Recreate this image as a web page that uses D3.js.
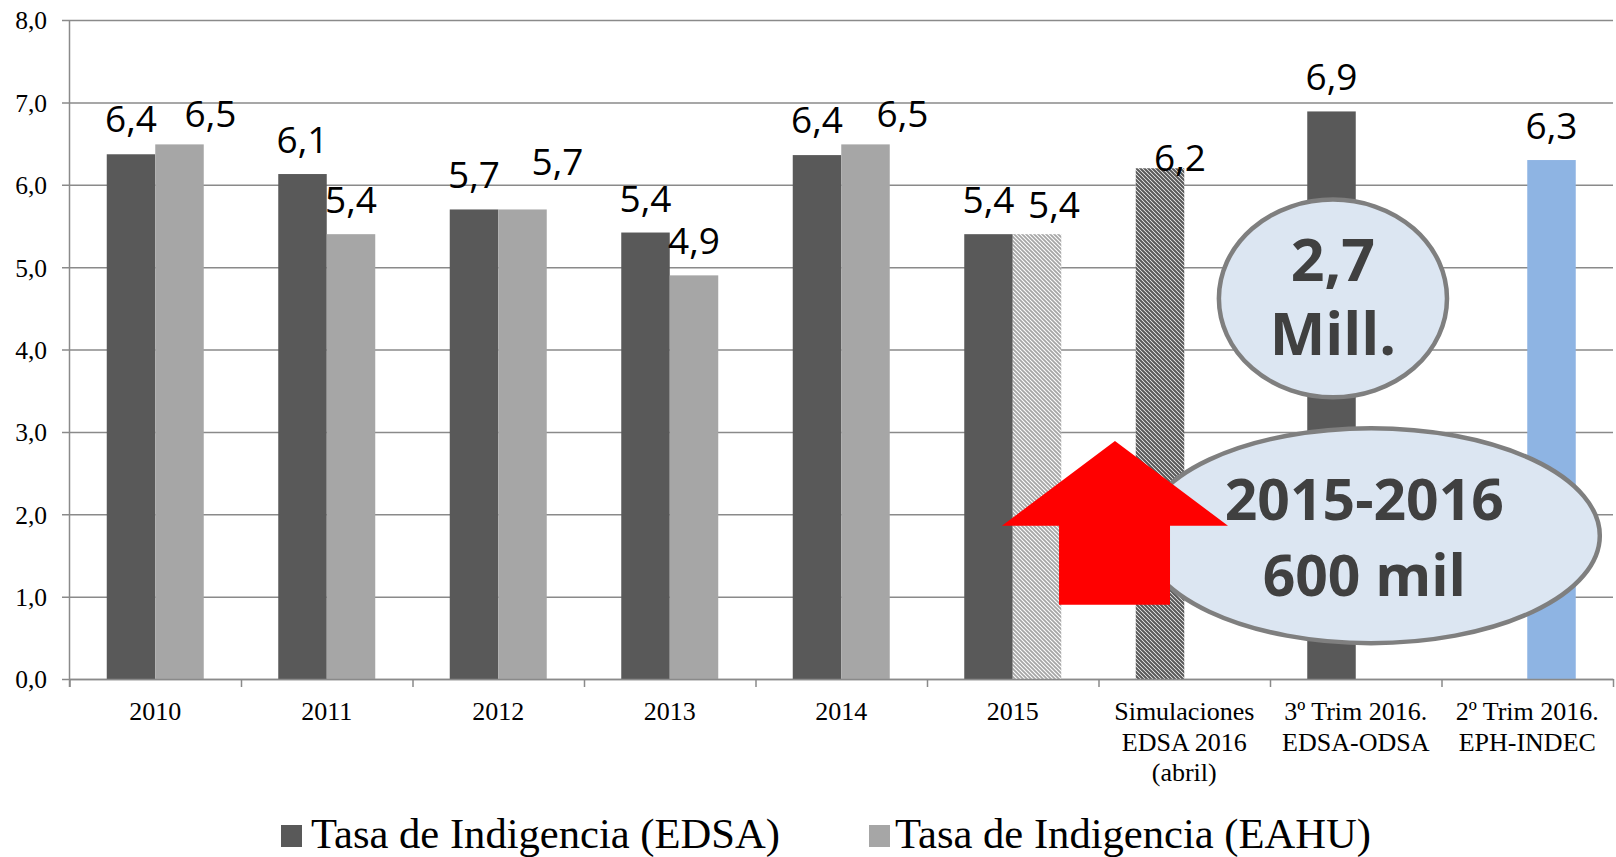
<!DOCTYPE html>
<html><head><meta charset="utf-8">
<script src="https://cdn.jsdelivr.net/npm/d3@7"></script>
<style>
html,body{margin:0;padding:0;background:#fff;}
svg{display:block;}
</style>
</head><body>
<svg id="chart" width="1616" height="857"></svg>
<script>
// ---- data ----
const categories = ["2010", "2011", "2012", "2013", "2014", "2015",
  "Simulaciones\nEDSA 2016\n(abril)", "3º Trim 2016.\nEDSA-ODSA", "2º Trim 2016.\nEPH-INDEC"];
const seriesNames = ["Tasa de Indigencia (EDSA)", "Tasa de Indigencia (EAHU)"];
const edsaValues = [6.37, 6.13, 5.70, 5.42, 6.36, 5.40, 6.20, 6.89, null];
const eahuValues = [6.49, 5.40, 5.70, 4.90, 6.49, 5.40, null, null, 6.30];
const yTicks = [0, 1, 2, 3, 4, 5, 6, 7, 8];
const bubble1Lines = ["2,7", "Mill."];
const bubble2Lines = ["2015-2016", "600 mil"];

// ---- layout / style (kept apart from the data) ----
const W = 1616, H = 857;
const plot = {left: 69.5, right: 1613, top: 20, bottom: 679};
const colEDSA = "#595959", colEAHU = "#A6A6A6", colBlue = "#8EB4E3";
const gridCol = "#8a8a8a";
// label nudges (px) — manual placements in original
const edsaLabelDx = [0, 0, 0, 0, 0, 0, 20, 0, 0];
const edsaLabelDy = [-1, 0, 0, 0, -1, 0, 24, 0, 0];
const eahuLabelDx = [31, 0, 35, 0, 37, 17, 0, 0, 0];
const eahuLabelDy = [4, 0, -13, 0, 4, 5, 0, 0, 0];

const svg = d3.select("#chart");
const defs = svg.append("defs");
function hatch(id, color, sw) {
  const p = defs.append("pattern").attr("id", id).attr("patternUnits", "userSpaceOnUse")
    .attr("width", 4).attr("height", 4);
  p.append("rect").attr("width", 4).attr("height", 4).attr("fill", "#fff");
  p.append("path").attr("d", "M-1,-1 L5,5 M-1,3 L1,5 M3,-1 L5,1")
    .attr("stroke", color).attr("stroke-width", sw);
}
hatch("hatchDark", colEDSA, 2.1);
hatch("hatchLight", colEAHU, 1.8);

const y = d3.scaleLinear().domain([0, 8]).range([plot.bottom, plot.top]);
const x = d3.scaleBand().domain(categories).range([plot.left, plot.right]).paddingInner(0).paddingOuter(0);
const xi = d3.scaleLinear().domain([0, categories.length]).range([plot.left, plot.right]);
const x1 = d3.scaleBand().domain(["EDSA", "EAHU"]).range([0, x.bandwidth()]).paddingInner(0).paddingOuter(0.768);

// gridlines (with small tick stubs left of axis)
const grid = svg.append("g").attr("transform", `translate(${plot.left - 7.5},0)`)
  .call(d3.axisLeft(y).tickValues(yTicks).tickSize(-(plot.right - plot.left + 7.5)).tickFormat(""));
grid.select(".domain").remove();
grid.selectAll(".tick line").attr("stroke", gridCol).attr("stroke-width", 1.5);

// y labels
const yl = svg.append("g").attr("transform", `translate(${plot.left - 7.5},0)`)
  .call(d3.axisLeft(y).tickValues(yTicks).tickSize(0).tickPadding(15)
    .tickFormat(d => d3.format(".1f")(d).replace(".", ",")));
yl.select(".domain").remove();
yl.selectAll("text").attr("font-family", "'Liberation Serif', 'Times New Roman', serif")
  .attr("font-size", 25.5).attr("fill", "#000").attr("dy", "0.35em");

// bars
const fillEDSA = i => i === 6 ? "url(#hatchDark)" : colEDSA;
const fillEAHU = i => i === 5 ? "url(#hatchLight)" : (i === 8 ? colBlue : colEAHU);
const barsG = svg.append("g");
const barData = [];
categories.forEach((c, i) => {
  if (edsaValues[i] != null) barData.push({c, i, s: "EDSA", v: edsaValues[i], fill: fillEDSA(i), dx: edsaLabelDx[i], dy: edsaLabelDy[i]});
  if (eahuValues[i] != null) barData.push({c, i, s: "EAHU", v: eahuValues[i], fill: fillEAHU(i), dx: eahuLabelDx[i], dy: eahuLabelDy[i]});
});
barsG.selectAll("rect").data(barData).join("rect")
  .attr("x", d => x(d.c) + x1(d.s))
  .attr("width", x1.bandwidth())
  .attr("y", d => y(d.v))
  .attr("height", d => y(0) - y(d.v))
  .attr("fill", d => d.fill);

// x axis (boundary ticks)
const xa = svg.append("g").attr("transform", `translate(0,${plot.bottom})`)
  .call(d3.axisBottom(xi).tickValues(d3.range(0, categories.length + 1)).tickSize(8).tickSizeOuter(0).tickFormat(""));
xa.select(".domain").attr("stroke", gridCol).attr("stroke-width", 1.5);
xa.selectAll(".tick line").attr("stroke", gridCol).attr("stroke-width", 1.5);
// y axis line
svg.append("line").attr("x1", plot.left).attr("x2", plot.left)
  .attr("y1", y(8)).attr("y2", y(0) + 8).attr("stroke", gridCol).attr("stroke-width", 1.5);

// x labels
const xLab = svg.append("g");
categories.forEach(c => {
  const t = xLab.append("text").attr("x", x(c) + x.bandwidth() / 2).attr("y", plot.bottom + 41)
    .attr("text-anchor", "middle").attr("font-family", "'Liberation Serif', 'Times New Roman', serif")
    .attr("font-size", 26).attr("fill", "#000");
  c.split("\n").forEach((ln, k) => {
    t.append("tspan").attr("x", x(c) + x.bandwidth() / 2).attr("dy", k === 0 ? 0 : 30.5).text(ln);
  });
});

// value labels
svg.append("g").selectAll("text").data(barData).join("text")
  .attr("x", d => x(d.c) + x1(d.s) + x1.bandwidth() / 2 + d.dx)
  .attr("y", d => y(d.v) - 21 + d.dy)
  .attr("text-anchor", "middle")
  .attr("font-family", "'Open Sans', 'Noto Sans', sans-serif")
  .attr("font-size", 37).attr("fill", "#000")
  .text(d => d3.format(".1f")(d.v).replace(".", ","));

// annotations (placed in data space)
const ann = svg.append("g");
function bubble(cxIdx, txIdx, cyVal, rxIdx, ryVal, lines, fs, baseVals) {
  const cx = xi(cxIdx), cy = y(cyVal);
  ann.append("ellipse").attr("cx", cx).attr("cy", cy)
    .attr("rx", xi(rxIdx) - xi(0)).attr("ry", y(0) - y(ryVal))
    .attr("fill", "#DCE6F2").attr("stroke", "#7F7F7F").attr("stroke-width", 4.5);
  lines.forEach((ln, k) => {
    ann.append("text").attr("x", xi(txIdx)).attr("y", y(baseVals[k])).attr("text-anchor", "middle")
      .attr("font-family", "'Open Sans', 'Noto Sans', sans-serif").attr("font-weight", 700)
      .attr("font-size", fs).attr("fill", "#404040").text(ln);
  });
}
bubble(7.367, 7.367, 4.62, 0.665, 1.20, bubble1Lines, 59, [4.83, 3.93]);
bubble(7.589, 7.55, 1.74, 1.334, 1.305, bubble2Lines, 57, [1.93, 1.01]);

// red arrow
const arrowPts = [[6.096, 2.89], [6.755, 1.86], [6.417, 1.86], [6.417, 0.9], [5.77, 0.9], [5.77, 1.86], [5.437, 1.86]];
ann.append("polygon").attr("points", arrowPts.map(p => `${xi(p[0])},${y(p[1])}`).join(" "))
  .attr("fill", "#FF0000");

// legend
const lg = svg.append("g");
const legCols = [colEDSA, colEAHU];
const legX = [281, 869];
const legTX = [311, 895];
seriesNames.forEach((n, k) => {
  lg.append("rect").attr("x", legX[k]).attr("y", 825).attr("width", 21).attr("height", 22).attr("fill", legCols[k]);
  lg.append("text").attr("x", legTX[k]).attr("y", 848)
    .attr("font-family", "'Liberation Serif', 'Times New Roman', serif").attr("font-size", 42.6)
    .attr("fill", "#000").text(n);
});
</script>
</body></html>
